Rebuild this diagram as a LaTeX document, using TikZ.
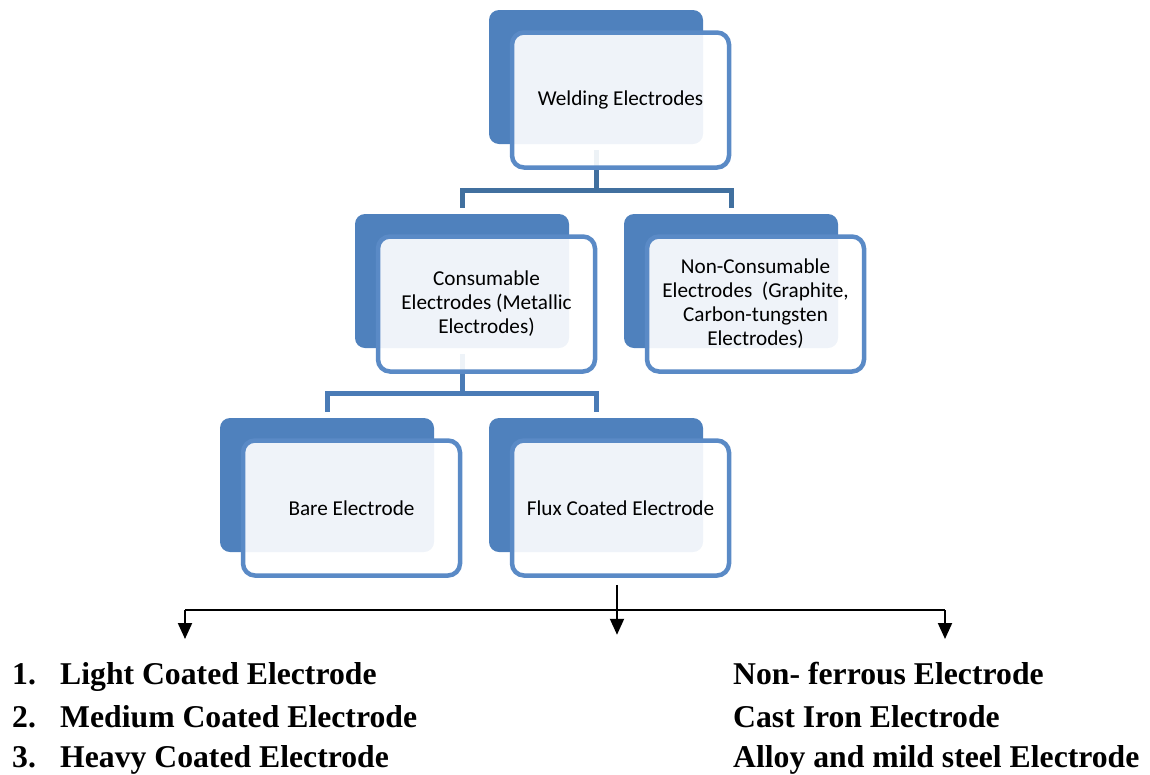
\documentclass[tikz,border=0pt]{standalone}
\usepackage{fontspec}
\setmainfont{Liberation Serif}
\newfontfamily\calib{Carlito}
\usetikzlibrary{arrows.meta}
\definecolor{dkblue}{HTML}{4F81BD}
\definecolor{edgeblue}{HTML}{5A8AC6}
\definecolor{connblue}{HTML}{41709F}
\definecolor{conntwo}{HTML}{4A7BB6}
\begin{document}
\begin{tikzpicture}[x=1pt,y=-1pt,
  back/.style={fill=dkblue, rounded corners=10pt, minimum width=214pt, minimum height=134pt, inner sep=0pt},
  front/.style={draw=edgeblue, line width=4.5pt, fill=white, fill opacity=0.91, text opacity=1,
     rounded corners=12pt, minimum width=217pt, minimum height=135pt, inner sep=0pt,
     align=center, font=\calib\fontsize{21.2}{24}\selectfont},
  conn/.style={draw=connblue, line width=5pt},
  conntwo/.style={draw=conntwo, line width=5pt},
  blk/.style={draw=black, line width=2pt},
  arr/.style={draw=black, line width=2pt, -{Triangle[length=16pt,width=14pt]}},
  item/.style={anchor=base west, inner sep=0pt, font=\fontsize{31.7}{40}\selectfont\bfseries}]
\useasboundingbox (0,0) rectangle (1150,774);

% back (dark) boxes
\node[back] (topB) at (596,77) {};
\node[back] (consB) at (462,281) {};
\node[back] (nonB) at (731,281) {};
\node[back] (bareB) at (327,485) {};
\node[back] (fluxB) at (596,485) {};

% connectors (behind front boxes)
\coordinate (j1) at (596,190);
\coordinate (j2) at (462,393);
\draw[conn] ([yshift=-6pt]topB.south) -- (j1);
\draw[conn] ([yshift=6pt]consB.north) -- (consB.north |- j1) -- (nonB.north |- j1) -- ([yshift=6pt]nonB.north);
\draw[conntwo] ([yshift=-6pt]consB.south) -- (j2);
\draw[conntwo] ([yshift=6pt]bareB.north) -- (bareB.north |- j2) -- (fluxB.north |- j2) -- ([yshift=6pt]fluxB.north);

% front boxes
\node[front] (top) at (620.5,100) {Welding Electrodes};
\node[front] (cons) at (486.5,304) {Consumable\\Electrodes (Metallic\\Electrodes)};
\node[front] (non) at (755.5,304) {Non-Consumable\\Electrodes\ \ (Graphite,\\Carbon-tungsten\\Electrodes)};
\node[front] (bare) at (351.5,508) {Bare Electrode};
\node[front] (flux) at (620.5,508) {Flux Coated Electrode};

% black arrows
\coordinate (hl) at (185,610);
\coordinate (hr) at (945,610);
\draw[blk] (hl) -- (hr);
\draw[arr] (hl) -- ++(0,29);
\draw[arr] (hr) -- ++(0,29);
\draw[arr] ([xshift=-3.5pt,yshift=-7pt]flux.south) -- ++(0,50);

% bottom lists
\node[item] (l1) at (12,684) {\makebox[48pt][l]{1.}Light Coated Electrode};
\node[item] (l2) at (12,727) {\makebox[48pt][l]{2.}Medium Coated Electrode};
\node[item] (l3) at (12,767) {\makebox[48pt][l]{3.}Heavy Coated Electrode};
\node[item] (r1) at (733,684) {Non- ferrous Electrode};
\node[item] (r2) at (733,727) {Cast Iron Electrode};
\node[item] (r3) at (733,767) {Alloy and mild steel Electrode};
\end{tikzpicture}
\end{document}
